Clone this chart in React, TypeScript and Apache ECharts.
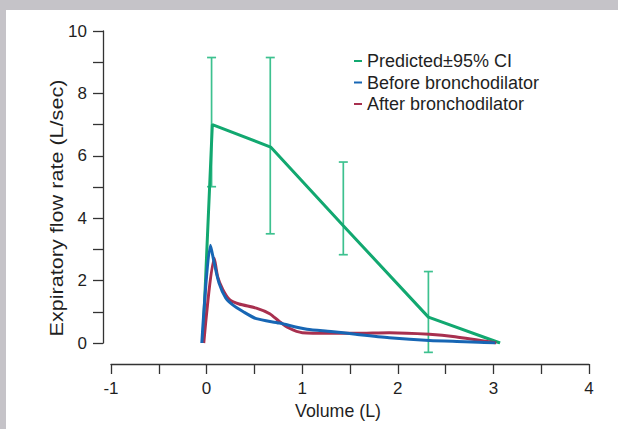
import React, { useEffect, useRef } from "react";
import * as echarts from "echarts";

const xTicks = { min: -1, max: 4, interval: 1 };
const yTicks = { min: 0, max: 10, interval: 2 };

const predicted: number[][] = [
  [-0.04, 0],
  [0.06, 7.0],
  [0.67, 6.28],
  [1.43, 3.76],
  [2.32, 0.83],
  [3.07, 0],
];

// [volume, lower, upper]
const predictedCI: number[][] = [
  [0.052, 5.01, 9.15],
  [0.666, 3.5, 9.15],
  [1.43, 2.83, 5.8],
  [2.32, -0.3, 2.29],
];

const before: number[][] = [
  [-0.05, 0],
  [0.04, 3.13],
  [0.08, 2.56],
  [0.13, 1.92],
  [0.2, 1.44],
  [0.27, 1.23],
  [0.38, 1.01],
  [0.52, 0.78],
  [0.76, 0.64],
  [1.05, 0.44],
  [1.3, 0.37],
  [1.56, 0.28],
  [1.91, 0.17],
  [2.33, 0.08],
  [2.7, 0.04],
  [3.02, 0],
];

const after: number[][] = [
  [-0.03, 0],
  [0.08, 2.72],
  [0.115, 2.13],
  [0.17, 1.71],
  [0.24, 1.39],
  [0.34, 1.25],
  [0.52, 1.12],
  [0.66, 0.94],
  [0.76, 0.69],
  [0.86, 0.48],
  [1.0, 0.33],
  [1.3, 0.31],
  [1.56, 0.31],
  [1.91, 0.33],
  [2.33, 0.28],
  [2.6, 0.2],
  [3.03, 0],
];

const names = {
  predicted: "Predicted\u00b195% CI",
  before: "Before bronchodilator",
  after: "After bronchodilator",
};

const FONT = "'Liberation Sans', Arial, Helvetica, sans-serif";
const AXIS = "#333333";
const TEXT = "#1f1f1f";
const GREEN = "#12a870";
const GREEN_LIGHT = "#3dc18f";
const BLUE = "#1766b4";
const RED = "#a8304f";
const FRAME = "#c5c3c8";

export default function App() {
  const ref = useRef<HTMLDivElement>(null);
  useEffect(() => {
    const chart = echarts.init(ref.current!, null, { renderer: "svg" });
    const axisCommon = {
      type: "value" as const,
      axisLine: { show: true, onZero: false, lineStyle: { color: AXIS, width: 1.3 } },
      axisTick: { show: true, length: 10, lineStyle: { color: AXIS, width: 1.3 } },
      minorTick: { show: true, splitNumber: 2, length: 10, lineStyle: { color: AXIS, width: 1.3 } },
      splitLine: { show: false },
      minorSplitLine: { show: false },
      axisLabel: { fontSize: 17, color: TEXT, fontFamily: FONT, margin: 16 },
    };
    chart.setOption({
      animation: false,
      backgroundColor: "#ffffff",
      grid: { left: 111, right: 29, top: 31, bottom: 86, containLabel: false },
      xAxis: { ...axisCommon, ...xTicks, position: "bottom", offset: 21 },
      yAxis: { ...axisCommon, ...yTicks, position: "left", offset: 8 },
      legend: {
        orient: "vertical",
        left: 349,
        top: 47,
        itemWidth: 8,
        itemHeight: 2,
        itemGap: 3.5,
        icon: "rect",
        data: [names.predicted, names.before, names.after],
        textStyle: { fontSize: 18, lineHeight: 18, color: TEXT, fontFamily: FONT, padding: [0, 0, 0, 0] },
      },
      graphic: [
        { type: "rect", shape: { x: 0, y: 0, width: 618, height: 10 }, style: { fill: FRAME }, silent: true },
        { type: "rect", shape: { x: 0, y: 0, width: 6, height: 429 }, style: { fill: FRAME }, silent: true },
        {
          type: "text",
          x: 57,
          y: 208,
          rotation: Math.PI / 2,
          scaleX: 1.2,
          style: {
            text: "Expiratory flow rate (L/sec)",
            fontSize: 18,
            fontFamily: FONT,
            fill: TEXT,
            textAlign: "center",
            textVerticalAlign: "middle",
          },
        },
        {
          type: "text",
          x: 338,
          y: 411,
          style: {
            text: "Volume (L)",
            fontSize: 17.8,
            fontFamily: FONT,
            fill: TEXT,
            textAlign: "center",
            textVerticalAlign: "middle",
          },
        },
      ],
      series: [
        {
          type: "custom",
          name: "ci",
          data: predictedCI,
          z: 2,
          renderItem: (_params: any, api: any) => {
            const x = api.value(0);
            const lo = api.coord([x, api.value(1)]);
            const hi = api.coord([x, api.value(2)]);
            const half = 4.5;
            const style = { stroke: GREEN_LIGHT, lineWidth: 1.7 };
            return {
              type: "group",
              children: [
                { type: "line", shape: { x1: lo[0], y1: lo[1], x2: hi[0], y2: hi[1] }, style },
                { type: "line", shape: { x1: hi[0] - half, y1: hi[1], x2: hi[0] + half, y2: hi[1] }, style },
                { type: "line", shape: { x1: lo[0] - half, y1: lo[1], x2: lo[0] + half, y2: lo[1] }, style },
              ],
            };
          },
        },
        {
          type: "line",
          name: names.predicted,
          data: predicted,
          showSymbol: false,
          z: 3,
          lineStyle: { color: GREEN, width: 3 },
          itemStyle: { color: GREEN },
        },
        {
          type: "line",
          name: names.after,
          data: after,
          smooth: 0.25,
          showSymbol: false,
          z: 4,
          lineStyle: { color: RED, width: 3 },
          itemStyle: { color: RED },
        },
        {
          type: "line",
          name: names.before,
          data: before,
          smooth: 0.25,
          showSymbol: false,
          z: 5,
          lineStyle: { color: BLUE, width: 3 },
          itemStyle: { color: BLUE },
        },
      ],
    });
    return () => chart.dispose();
  }, []);
  return (
    <div
      ref={ref}
      style={{ position: "fixed", left: 0, top: 0, width: 618, height: 429, background: "#ffffff" }}
    />
  );
}
